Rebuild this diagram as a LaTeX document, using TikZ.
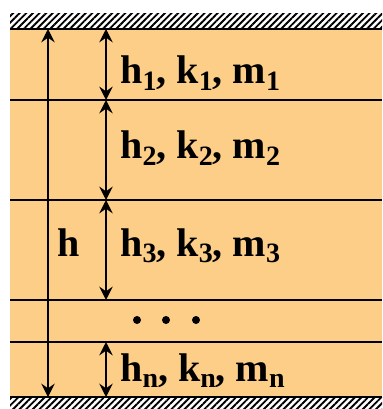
\documentclass[tikz,border=0pt]{standalone}
\usepackage{fontspec}
\setmainfont{Liberation Serif}
\usetikzlibrary{arrows.meta, patterns.meta, positioning}
\definecolor{mysand}{RGB}{252,206,136}
\definecolor{mydark}{RGB}{0,0,0}
\newcommand{\lsub}[1]{\raisebox{-5pt}{\fontsize{21}{21}\selectfont #1}}
\tikzset{
  layer/.style={fill=mysand, draw=none},
  wall/.style={pattern={Lines[angle=45, distance=3.5pt, line width=1.4pt]},
    pattern color=mydark, draw=none},
  border/.style={line width=2pt, color=mydark},
  dimarrow/.style={>={Stealth[length=10pt, width=10pt, inset=3.5pt]}, <->,
    line width=1.5pt, color=mydark},
  lbl/.style={font=\fontsize{30}{34}\selectfont\bfseries, inner sep=0pt, anchor=base west},
  dot/.style={circle, fill=mydark, inner sep=0pt, minimum size=6pt}
}

\begin{document}
\begin{tikzpicture}[x=0.75pt, y=-0.75pt]
  \useasboundingbox (0,0) rectangle (382,409);

  % soil and walls
  \fill[layer] (10,29) rectangle (382,397);
  \fill[wall] (10,14) rectangle (382,29);
  \fill[wall] (10,397) rectangle (382,409);

  % layer boundaries
  \coordinate (l0) at (10,29);
  \coordinate (l1) at (10,100);
  \coordinate (l2) at (10,200);
  \coordinate (l3) at (10,300);
  \coordinate (l4) at (10,342);
  \coordinate (l5) at (10,397);
  \coordinate (r) at (382,0);
  \foreach \i in {0,...,5}
    \draw[border] (l\i) -- (l\i -| r);

  % dimension arrows
  \coordinate (b0) at (48,29);
  \coordinate (b5) at (48,397);
  \coordinate (a0) at (106,29);
  \coordinate (a1) at (106,100);
  \coordinate (a2) at (106,200);
  \coordinate (a3) at (106,300);
  \coordinate (a4) at (106,342);
  \coordinate (a5) at (106,397);
  \draw[dimarrow] (b0) -- (b5);
  \draw[dimarrow] (a0) -- (a1);
  \draw[dimarrow] (a1) -- (a2);
  \draw[dimarrow] (a2) -- (a3);
  \draw[dimarrow] (a4) -- (a5);

  % labels
  \node[lbl] (hall) at (57,256) {h};
  \node[lbl] (lay1) at (120,84) {h\lsub{1}, k\lsub{1}, m\lsub{1}};
  \node[lbl] (lay2) at (120,159) {h\lsub{2}, k\lsub{2}, m\lsub{2}};
  \node[lbl] (lay3) at (120,256) {h\lsub{3}, k\lsub{3}, m\lsub{3}};
  \node[lbl] (layn) at (120,381) {h\lsub{n}, k\lsub{n}, m\lsub{n}};

  \node[dot] (d1) at (137,320) {};
  \node[dot] (d2) at (166,320) {};
  \node[dot] (d3) at (196,320) {};
\end{tikzpicture}
\end{document}
